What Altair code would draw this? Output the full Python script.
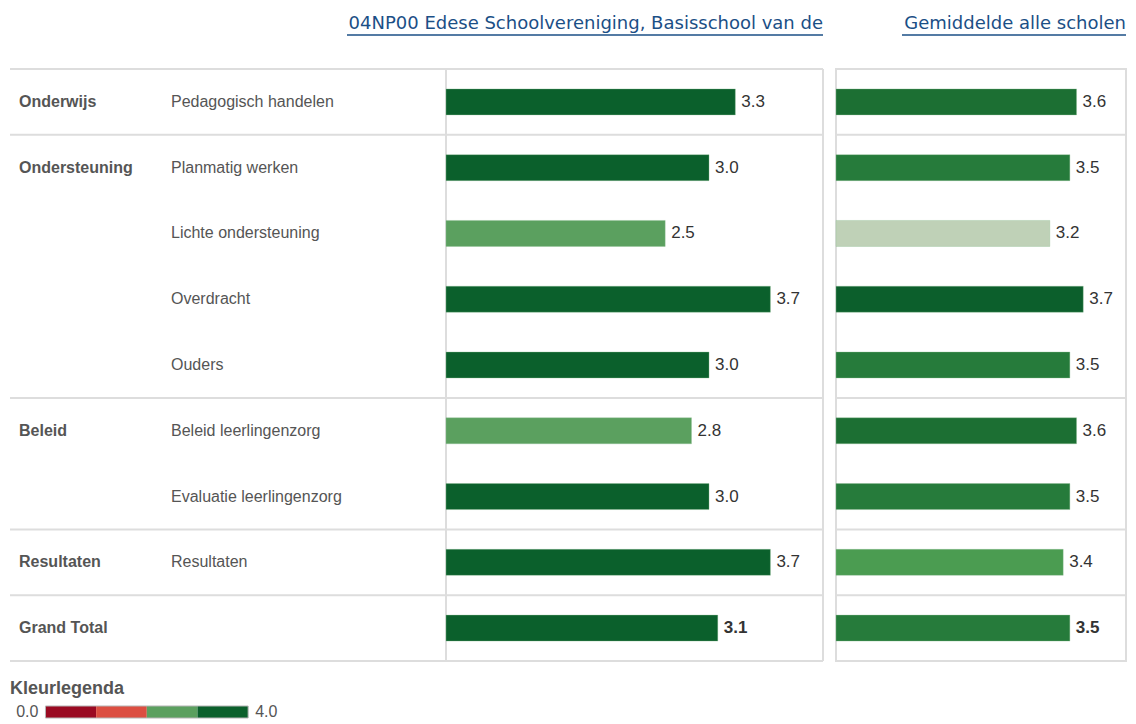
import altair as alt
import pandas as pd

# ---------------- data ----------------
categorieen = ["Onderwijs", "Ondersteuning", "", "", "", "Beleid", "", "Resultaten", "Grand Total"]
onderdelen = ["Pedagogisch handelen", "Planmatig werken", "Lichte ondersteuning", "Overdracht",
              "Ouders", "Beleid leerlingenzorg", "Evaluatie leerlingenzorg", "Resultaten", ""]
rij_sleutels = ["Pedagogisch handelen", "Planmatig werken", "Lichte ondersteuning", "Overdracht",
                "Ouders", "Beleid leerlingenzorg", "Evaluatie leerlingenzorg", "Resultaten", "Grand Total"]
school_scores = [3.3, 3.0, 2.5, 3.7, 3.0, 2.8, 3.0, 3.7, 3.1]
gemiddelde_scores = [3.6, 3.5, 3.2, 3.7, 3.5, 3.6, 3.5, 3.4, 3.5]

titel_school = "04NP00 Edese Schoolvereniging, Basisschool van de"
titel_gemiddelde = "Gemiddelde alle scholen"
legenda_titel = "Kleurlegenda"

legenda_start = [0, 1, 2, 3]
legenda_eind = [1, 2, 3, 4]
legenda_drempels = [1, 2, 3]
legenda_kleuren = ["#9a0a22", "#dc4e41", "#5ba05f", "#0b602c"]
legenda_labels = ["0.0", "4.0"]
legenda_label_waarden = [0, 4]

gem_kleur_stops = [3.2, 3.4, 3.5, 3.6, 3.7]
gem_kleuren = ["#bfd1b7", "#4b9c51", "#267b3b", "#1c6f33", "#0c5f2c"]

# ---------------- styles ----------------
FONT = "Liberation Sans"
TITLE_FONT = "DejaVu Sans"
LINE = "#dddddd"
BLUE = "#1b4f86"
GREY = "#555555"
DARK = "#333333"

df = pd.DataFrame({
    "rij": rij_sleutels,
    "categorie": categorieen,
    "onderdeel": onderdelen,
    "school": school_scores,
    "gemiddelde": gemiddelde_scores,
})
df["groepstart"] = df["categorie"] != ""
df["totaal"] = df["rij"] == "Grand Total"

Y = alt.Y("rij:N", sort=rij_sleutels, axis=None,
          scale=alt.Scale(paddingInner=0, paddingOuter=0))
Y_top = alt.Y("rij:N", sort=rij_sleutels, axis=None, bandPosition=0)
Y_bot = alt.Y("rij:N", sort=rij_sleutels, axis=None, bandPosition=1)

base = alt.Chart(df)
no_stroke = alt.ViewBackground(stroke="transparent")

H = 592
WA, WB, WC = 436, 377, 290


def bar_layers(field, x0, x1, xmax, color_scale, titel, titel_breedte):
    X = alt.X(f"{field}:Q", scale=alt.Scale(domain=[0, xmax], range=[x0, x1], nice=False),
              axis=None)
    bars = base.mark_bar(size=26, stroke="#8fbf94", strokeWidth=0.6, strokeOpacity=0.6).encode(
        x=X, y=Y, color=alt.Color(f"{field}:Q", scale=color_scale, legend=None))
    labels = base.transform_filter("!datum.totaal").mark_text(
        align="left", baseline="middle", dx=6, font=FONT, fontSize=17, color=DARK).encode(
        x=X, y=Y, text=alt.Text(f"{field}:Q", format=".1f"))
    labels_tot = base.transform_filter("datum.totaal").mark_text(
        align="left", baseline="middle", dx=6, font=FONT, fontSize=17, fontWeight="bold",
        color=DARK).encode(
        x=X, y=Y, text=alt.Text(f"{field}:Q", format=".1f"))
    tdf = alt.Chart(pd.DataFrame({"titel": [titel]}))
    title = tdf.mark_text(align="right", baseline="middle", font=TITLE_FONT, fontSize=18,
                          color=BLUE).encode(
        text="titel:N", x=alt.value(x1), y=alt.value(-45))
    underline = tdf.mark_rule(color=BLUE, strokeWidth=1.5).encode(
        x=alt.value(x1 - titel_breedte), x2=alt.value(x1), y=alt.value(-34))
    return [bars, labels, labels_tot, title, underline]


# ---------- panel AB: row labels + school bars ----------
rules_g = base.transform_filter("datum.groepstart").mark_rule(color=LINE, strokeWidth=2).encode(y=Y_top)
rules_b = base.transform_filter("datum.totaal").mark_rule(color=LINE, strokeWidth=2).encode(y=Y_bot)
vlines = base.transform_filter("datum.totaal").mark_rule(color=LINE, strokeWidth=2)
vline_mid = vlines.encode(x=alt.value(WA))
vline_end = vlines.encode(x=alt.value(WA + WB))
cat_text = base.mark_text(align="left", baseline="middle", font=FONT, fontSize=16,
                          fontWeight="bold", color=GREY).encode(
    y=Y, x=alt.value(9), text="categorie:N")
sub_text = base.mark_text(align="left", baseline="middle", font=FONT, fontSize=16,
                          color=GREY).encode(
    y=Y, x=alt.value(161), text="onderdeel:N")

panel_ab = alt.layer(
    rules_g, rules_b, vline_mid, vline_end, cat_text, sub_text,
    *bar_layers("school", WA, WA + WB, 4.3,
                alt.Scale(type="threshold", domain=legenda_drempels, range=legenda_kleuren),
                titel_school, 476)
).properties(width=WA + WB, height=H, view=no_stroke)

panel_c = alt.layer(
    rules_g,
    *bar_layers("gemiddelde", 0, WC, 4.34,
                alt.Scale(type="linear", domain=gem_kleur_stops, range=gem_kleuren),
                titel_gemiddelde, 224)
).properties(width=WC, height=H)

top = alt.hconcat(panel_ab, panel_c, spacing=9)

# ---------- colour legend ----------
leg_df = pd.DataFrame({"start": legenda_start, "eind": legenda_eind})
LX = alt.X("start:Q", scale=alt.Scale(domain=[-0.7, 5.3], nice=False, zero=False), axis=None)
leg_boxes = alt.Chart(leg_df).mark_rect().encode(
    x=LX, x2="eind:Q",
    color=alt.Color("start:Q", scale=alt.Scale(type="threshold", domain=legenda_drempels,
                                                range=legenda_kleuren), legend=None))
leg_outline = alt.Chart(leg_df).transform_aggregate(
    start="min(start)", eind="max(eind)").mark_rect(
    fillOpacity=0, stroke="#b5b5b5", strokeWidth=1).encode(x=LX, x2="eind:Q")
lab_df = pd.DataFrame({"start": legenda_label_waarden, "label": legenda_labels})
lab_left = alt.Chart(lab_df).transform_filter("datum.start == 0").mark_text(
    align="right", baseline="middle", dx=-7, font=FONT, fontSize=16, color=GREY).encode(
    x=LX, text="label:N")
lab_right = alt.Chart(lab_df).transform_filter("datum.start == 4").mark_text(
    align="left", baseline="middle", dx=7, font=FONT, fontSize=16, color=GREY).encode(
    x=LX, text="label:N")
legend = alt.layer(leg_boxes, leg_outline, lab_left, lab_right).properties(
    width=304, height=12, view=no_stroke,
    title=alt.TitleParams(legenda_titel, anchor="start", font=FONT, fontSize=18,
                          fontWeight="bold", color=GREY, offset=6))

chart = alt.vconcat(top, legend, spacing=16).properties(
    padding={"left": 0, "top": 6, "right": 0, "bottom": 0}
).configure_view(stroke=LINE, strokeWidth=2)

chart.save("out.html", embed_options={"renderer": "svg", "actions": False})
